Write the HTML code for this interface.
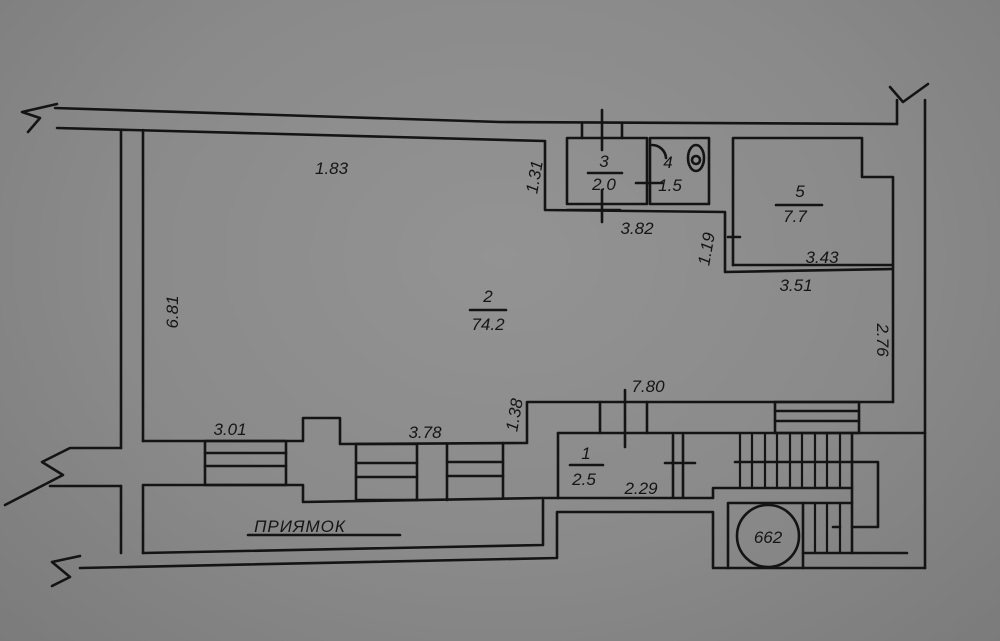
<!DOCTYPE html>
<html><head><meta charset="utf-8"><style>
html,body{margin:0;padding:0;width:1000px;height:641px;overflow:hidden}
body{background:radial-gradient(ellipse at 50% 40%,#939393 0%,#8a8a8a 55%,#7b7b7b 100%)}
svg{position:absolute;left:0;top:0}
text{font-family:"Liberation Sans",sans-serif;font-style:italic;font-size:17px;fill:#151515}
</style></head><body>
<svg width="1000" height="641" viewBox="0 0 1000 641" fill="none" stroke="#141414" stroke-width="2.6" stroke-linecap="round" stroke-linejoin="round">
<!-- top walls -->
<polyline points="55,108 500,122 897,124"/>
<polyline points="57,128 545,141 545,210 725,212 725,272 892,269"/>
<path d="M57,104 L22,112 L40,118 L28,132"/>
<path d="M890,87 L903,102 L928,84"/>
<line x1="897" y1="100" x2="897" y2="124"/>
<line x1="925" y1="100" x2="925" y2="568"/>
<!-- room 3/4 -->
<rect x="567" y="138" width="80" height="66"/>
<rect x="650" y="138" width="59" height="66"/>
<line x1="567" y1="210" x2="620" y2="210"/>
<line x1="582" y1="124" x2="582" y2="138"/><line x1="622" y1="124" x2="622" y2="138"/>
<line x1="602" y1="110" x2="602" y2="150"/><line x1="602" y1="190" x2="602" y2="222"/>
<line x1="636" y1="183" x2="662" y2="183"/>
<ellipse cx="696" cy="158" rx="8" ry="13"/><circle cx="696" cy="160" r="4"/>
<path d="M652,145 A14,14 0 0 1 666,158"/>
<!-- room 5 -->
<polyline points="733,265 733,138 862,138 862,177 893,177 893,402"/>
<line x1="733" y1="265" x2="892" y2="265"/>
<line x1="728" y1="237" x2="740" y2="237"/>
<!-- left wall -->
<line x1="121" y1="130" x2="121" y2="448"/>
<line x1="143" y1="130" x2="143" y2="441"/>
<line x1="121" y1="486" x2="121" y2="553"/>
<line x1="143" y1="486" x2="143" y2="553"/>
<polyline points="121,448 70,448 42,462 63,475 5,505"/>
<line x1="50" y1="486" x2="121" y2="486"/>
<!-- room 2 bottom -->
<polyline points="143,441 303,441 303,418 340,418 340,444 527,443 527,402 893,402"/>
<polyline points="143,485 300,485 303,485 303,502 543,498 713,498 713,488 852,488"/>
<!-- windows -->
<rect x="205" y="441" width="81" height="44"/>
<line x1="205" y1="453" x2="286" y2="453"/><line x1="205" y1="466" x2="286" y2="466"/>
<rect x="356" y="444" width="61" height="56"/>
<line x1="356" y1="463" x2="417" y2="463"/><line x1="356" y1="477" x2="417" y2="477"/>
<line x1="447" y1="444" x2="447" y2="500"/><line x1="503" y1="443" x2="503" y2="498"/>
<line x1="447" y1="462" x2="503" y2="462"/><line x1="447" y1="476" x2="503" y2="476"/>
<!-- bottom -->
<polyline points="143,553 543,545 543,500"/>
<polyline points="80,568 557,558 557,512 713,512 713,568 925,568"/>
<path d="M80,556 L52,562 L70,577 L52,586"/>
<!-- room 1 -->
<line x1="558" y1="433" x2="925" y2="433"/>
<line x1="558" y1="433" x2="558" y2="498"/>
<line x1="600" y1="402" x2="600" y2="433"/><line x1="647" y1="402" x2="647" y2="433"/>
<line x1="625" y1="390" x2="625" y2="447"/>
<line x1="673" y1="435" x2="673" y2="497"/><line x1="683" y1="435" x2="683" y2="497"/>
<line x1="665" y1="463" x2="695" y2="463"/>
<!-- stairs -->
<rect x="775" y="402" width="84" height="31"/>
<line x1="775" y1="411" x2="859" y2="411"/><line x1="775" y1="421" x2="859" y2="421"/>
<g stroke-width="2.2">
<line x1="740" y1="433" x2="740" y2="488"/><line x1="752" y1="433" x2="752" y2="488"/>
<line x1="765" y1="433" x2="765" y2="488"/><line x1="777" y1="433" x2="777" y2="488"/>
<line x1="790" y1="433" x2="790" y2="488"/><line x1="802" y1="433" x2="802" y2="488"/>
<line x1="815" y1="433" x2="815" y2="488"/><line x1="827" y1="433" x2="827" y2="488"/>
<line x1="840" y1="433" x2="840" y2="488"/>
<line x1="815" y1="503" x2="815" y2="553"/><line x1="827" y1="503" x2="827" y2="553"/>
<line x1="840" y1="503" x2="840" y2="553"/>
</g>
<line x1="852" y1="433" x2="852" y2="553"/>
<polyline points="735,462 878,462 878,527 852,527"/>
<line x1="803" y1="553" x2="907" y2="553"/>
<polyline points="728,568 728,503 852,503"/>
<line x1="803" y1="503" x2="803" y2="568"/>
<line x1="833" y1="527" x2="840" y2="527"/>
<circle cx="768" cy="536" r="31"/>
<!-- fraction lines -->
<line x1="470" y1="310" x2="506" y2="310"/>
<line x1="588" y1="173" x2="622" y2="173"/>
<line x1="776" y1="205" x2="822" y2="205"/>
<line x1="570" y1="465" x2="603" y2="465"/>
<line x1="248" y1="535" x2="400" y2="535"/>
</svg>
<svg width="1000" height="641" viewBox="0 0 1000 641">
<text x="315" y="174">1.83</text>
<text transform="translate(178,312) rotate(-90)" text-anchor="middle">6.81</text>
<text x="488" y="302" text-anchor="middle" font-size="19">2</text>
<text x="488" y="330" text-anchor="middle">74.2</text>
<text transform="translate(540,178) rotate(-80)" text-anchor="middle">1.31</text>
<text x="604" y="167" text-anchor="middle">3</text>
<text x="604" y="190" text-anchor="middle">2.0</text>
<text x="668" y="168" text-anchor="middle">4</text>
<text x="670" y="191" text-anchor="middle">1.5</text>
<text x="637" y="234" text-anchor="middle">3.82</text>
<text transform="translate(712,250) rotate(-80)" text-anchor="middle">1.19</text>
<text x="800" y="197" text-anchor="middle" font-size="19">5</text>
<text x="795" y="222" text-anchor="middle">7.7</text>
<text x="822" y="263" text-anchor="middle">3.43</text>
<text x="796" y="291" text-anchor="middle">3.51</text>
<text transform="translate(877,340) rotate(90)" text-anchor="middle">2.76</text>
<text x="648" y="392" text-anchor="middle">7.80</text>
<text x="230" y="435" text-anchor="middle">3.01</text>
<text x="425" y="438" text-anchor="middle">3.78</text>
<text transform="translate(520,416) rotate(-80)" text-anchor="middle">1.38</text>
<text x="586" y="459" text-anchor="middle">1</text>
<text x="584" y="485" text-anchor="middle">2.5</text>
<text x="641" y="494" text-anchor="middle">2.29</text>
<text x="300" y="532" text-anchor="middle" font-size="15" letter-spacing="1">ПРИЯМОК</text>
<text x="768" y="543" text-anchor="middle" font-size="20" font-style="normal">662</text>
</svg>
</body></html>
